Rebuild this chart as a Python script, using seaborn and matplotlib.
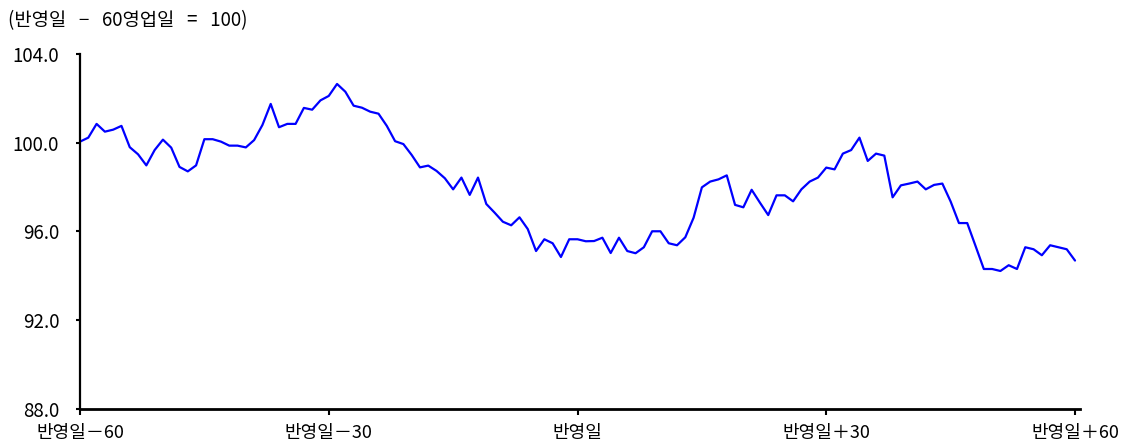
import matplotlib
matplotlib.use("Agg")
import matplotlib.pyplot as plt
import seaborn as sns
import pandas as pd

days = list(range(-60, 61))
index_values = [
    100.05, 100.23, 100.85, 100.50, 100.59, 100.76, 99.80, 99.48, 98.98, 99.67,
    100.14, 99.78, 98.91, 98.71, 98.98, 100.16, 100.16, 100.05, 99.87, 99.87,
    99.79, 100.12, 100.80, 101.75, 100.70, 100.85, 100.85, 101.57, 101.49, 101.91,
    102.11, 102.65, 102.30, 101.67, 101.58, 101.40, 101.31, 100.76, 100.07, 99.94,
    99.45, 98.89, 98.97, 98.73, 98.40, 97.90, 98.43, 97.65, 98.43, 97.24,
    96.85, 96.44, 96.28, 96.64, 96.11, 95.12, 95.65, 95.47, 94.85, 95.65,
    95.65, 95.56, 95.57, 95.72, 95.03, 95.72, 95.12, 95.02, 95.29, 96.01,
    96.01, 95.47, 95.38, 95.74, 96.62, 97.99, 98.25, 98.35, 98.53, 97.20,
    97.09, 97.88, 97.30, 96.74, 97.63, 97.63, 97.36, 97.90, 98.25, 98.43,
    98.88, 98.80, 99.51, 99.67, 100.23, 99.18, 99.51, 99.42, 97.54, 98.08,
    98.16, 98.25, 97.90, 98.10, 98.16, 97.35, 96.38, 96.38, 95.35, 94.31,
    94.31, 94.22, 94.48, 94.31, 95.29, 95.20, 94.93, 95.38, 95.29, 95.20,
    94.69,
]
x_tick_positions = [-60, -30, 0, 30, 60]
x_tick_labels = ["반영일－60", "반영일－30", "반영일", "반영일＋30", "반영일＋60"]
y_ticks = [88.0, 92.0, 96.0, 100.0, 104.0]
title_text = "(반영일   −   60영업일   =   100)"

sns.set_style("ticks")
plt.rcParams["font.family"] = ["Noto Sans CJK KR", "DejaVu Sans"]

df = pd.DataFrame({"day": days, "value": index_values})

fig = plt.figure(figsize=(11.3, 4.44), dpi=100)
ax = fig.add_axes([80 / 1130, 1 - 409 / 444, 1000 / 1130, 355 / 444])
sns.lineplot(data=df, x="day", y="value", ax=ax, color="#0000FF", linewidth=1.6)

ax.set_xlim(-60, 60.6)
ax.set_ylim(88, 104)
ax.set_xticks(x_tick_positions)
ax.set_xticklabels(x_tick_labels)
ax.set_yticks(y_ticks)
ax.set_yticklabels([f"{v:.1f}" for v in y_ticks])
ax.set_xlabel("")
ax.set_ylabel("")
for side in ["top", "right"]:
    ax.spines[side].set_visible(False)
ax.spines["left"].set_linewidth(1.6)
ax.spines["bottom"].set_linewidth(2.0)
ax.spines["left"].set_color("black")
ax.spines["bottom"].set_color("black")
ax.tick_params(axis="y", direction="out", length=3, width=1.5, pad=12,
               labelsize=13.5, colors="black")
ax.tick_params(axis="x", direction="out", length=4, width=1.5, pad=7,
               labelsize=13, colors="black")

fig.text(8 / 1130, 1 - 21 / 444, title_text, ha="left", va="center",
         fontsize=13.5, color="black")

fig.savefig("out.png", dpi=100, facecolor="white")
